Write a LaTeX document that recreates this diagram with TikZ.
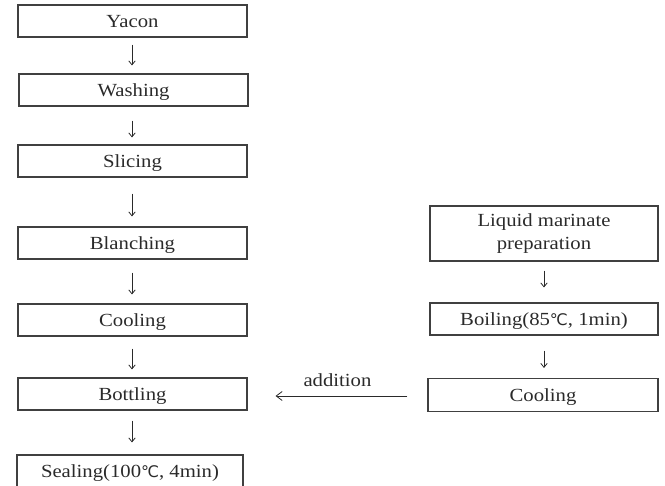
\documentclass[tikz,border=0pt]{standalone}
\usepackage{fontspec}
\setmainfont{Liberation Serif}[FakeStretch=1.12]
\newfontfamily\symfont{DejaVu Sans}
\usetikzlibrary{arrows.meta}
\newcommand{\degc}{{\symfont\fontsize{16}{16}\selectfont ℃}}
\definecolor{boxgray}{HTML}{404040}
\definecolor{textgray}{HTML}{2A2A2A}
\begin{document}
\begin{tikzpicture}[x=1pt,y=-1pt,
  font=\fontsize{18.5}{23}\selectfont,
  stepbox/.style={draw=boxgray, line width=1.1pt, minimum width=229pt,
    inner sep=0pt, text height=23pt, text depth=9pt, text=textgray},
  flow/.style={-{Straight Barb[length=4pt,width=6.5pt]}, line width=0.8pt, draw=textgray},
  feed/.style={-{Straight Barb[length=6pt,width=9pt]}, line width=0.8pt, draw=textgray}]
\useasboundingbox (0,0) rectangle (665,486);
% left column
\node[stepbox] (yacon) at (132.5,21) {Yacon};
\node[stepbox] (wash) at (133.5,90) {Washing};
\node[stepbox] (slice) at (132.5,161) {Slicing};
\node[stepbox] (blanch) at (132.5,243) {Blanching};
\node[stepbox] (coolL) at (132.5,320) {Cooling};
\node[stepbox] (bottle) at (132.5,394) {Bottling};
\node[stepbox, minimum width=226pt] (seal) at (130,471) {Sealing(100\degc, 4min)};
% right column
\node[draw=boxgray, line width=1.1pt, minimum width=228pt, minimum height=55pt,
  inner sep=0pt, align=center, text=textgray] (liquid) at (544,233.5)
  {Liquid marinate\\preparation};
\node[stepbox, minimum width=228pt] (boil) at (544,319) {Boiling(85\degc, 1min)};
\node[stepbox, minimum width=230pt, text height=23.5pt, text depth=9.5pt] (coolR) at (543,395) {Cooling};
% arrows
\draw[flow, shorten <=7pt, shorten >=8pt] (yacon.south -| 132,0) -- (wash.north -| 132,0);
\draw[flow, shorten <=14pt, shorten >=7pt] (wash.south -| 132,0) -- (slice.north -| 132,0);
\draw[flow, shorten <=16pt, shorten >=10pt] (slice.south -| 132,0) -- (blanch.north -| 132,0);
\draw[flow, shorten <=13pt, shorten >=9pt] (blanch.south -| 132,0) -- (coolL.north -| 132,0);
\draw[flow, shorten <=12pt, shorten >=8pt] (coolL.south -| 132,0) -- (bottle.north -| 132,0);
\draw[flow, shorten <=10pt, shorten >=12pt] (bottle.south -| 132,0) -- (seal.north -| 132,0);
\draw[flow, shorten <=9pt, shorten >=15pt] (liquid.south -| 544,0) -- (boil.north -| 544,0);
\draw[flow, shorten <=15pt, shorten >=10pt] (boil.south -| 544,0) -- (coolR.north -| 544,0);
\draw[feed, shorten <=20pt, shorten >=28pt] (coolR.west |- 0,396) -- (bottle.east |- 0,396)
  node[midway, above=9pt, text=textgray, inner sep=0pt] (addlbl) {addition};
\end{tikzpicture}
\end{document}
